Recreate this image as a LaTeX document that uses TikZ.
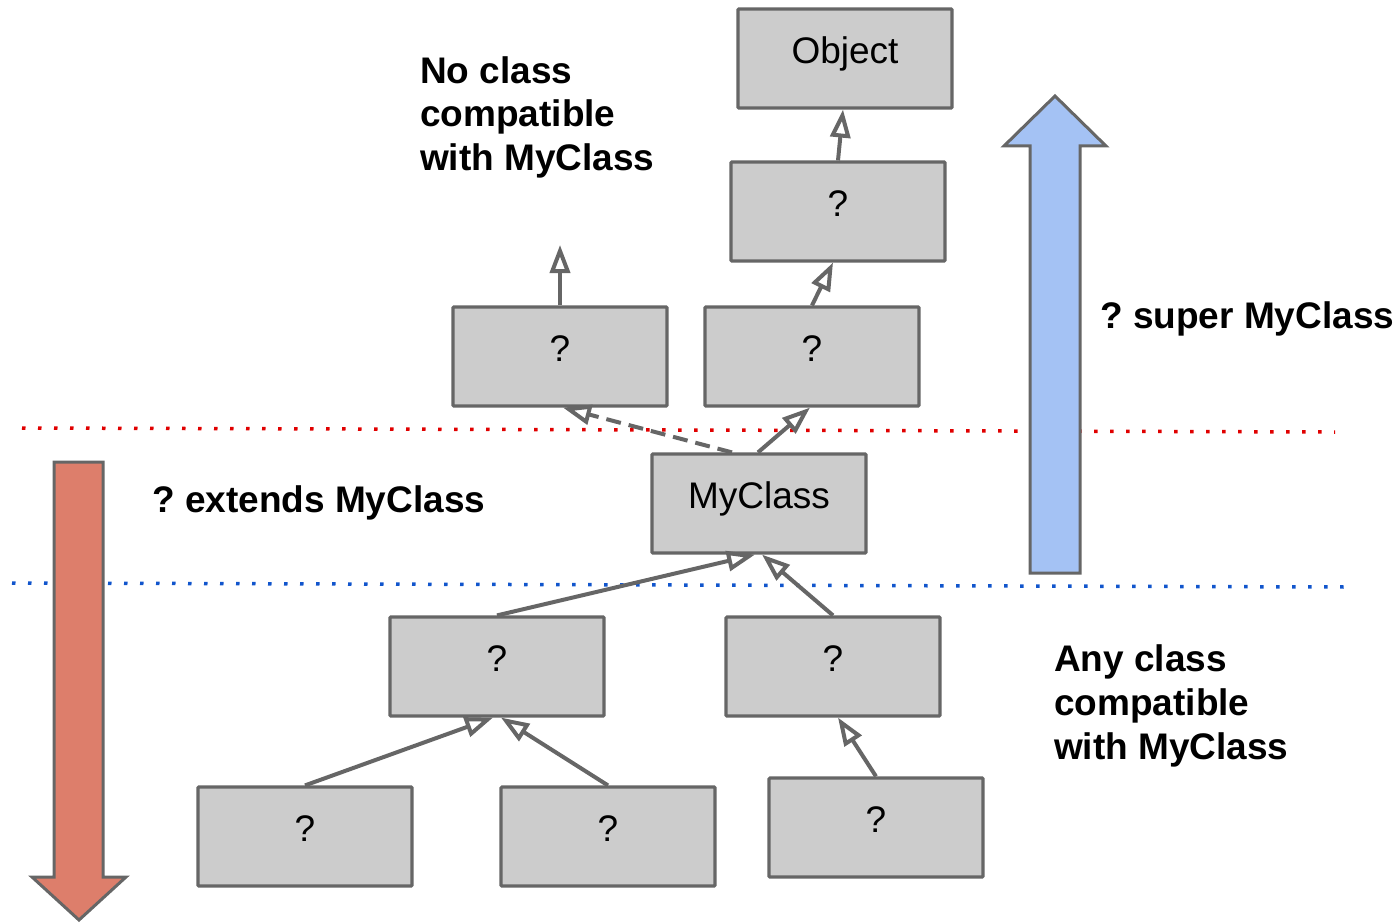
\documentclass[tikz,border=0pt]{standalone}
\usepackage{fontspec}
\setmainfont{Liberation Sans}
\usetikzlibrary{arrows.meta}
\frenchspacing
\definecolor{boxfill}{HTML}{CCCCCC}
\definecolor{edgegray}{HTML}{666666}
\definecolor{upblue}{HTML}{A4C2F4}
\definecolor{downred}{HTML}{DD7E6B}
\definecolor{dotred}{HTML}{E00000}
\definecolor{dotblue}{HTML}{1155CC}
\tikzset{
  classbox/.style={draw=edgegray, fill=boxfill, line width=3.2pt, rounded corners=1pt,
    minimum width=214pt, minimum height=99pt, inner sep=0pt,
    text height=26pt, text depth=16pt,
    font=\fontsize{37}{44}\selectfont},
  subedge/.style={draw=edgegray, line width=4pt,
    arrows={-Triangle[open, fill=white, length=28pt, width=20pt]}},
  note/.style={anchor=base west, inner sep=0pt, align=left,
    font=\fontsize{37}{44}\selectfont\bfseries},
  bigarrow/.style={draw=edgegray, line width=3pt, line join=miter},
  boundary/.style={line width=3.5pt, dash pattern=on 3.5pt off 12.5pt}
}
\begin{document}
\begin{tikzpicture}[x=1pt, y=-1pt]
\useasboundingbox (0,0) rectangle (1400,923);

% boundaries between the two wildcard regions
\draw[boundary, dotred] (22,428) -- (1335,432);
\draw[boundary, dotblue] (12,583) -- (1345,587);

% direction arrows
\draw[bigarrow, fill=upblue] (1030,573) -- (1030,146) -- (1004,146) -- (1055,96)
  -- (1106,146) -- (1080,146) -- (1080,573) -- cycle;
\draw[bigarrow, fill=downred] (54,462) -- (103,462) -- (103,877) -- (126,877)
  -- (79,920) -- (32,877) -- (54,877) -- cycle;

% class hierarchy
\node[classbox] (obj) at (845,58.5) {Object};
\node[classbox] (q1)  at (838,211.5) {?};
\node[classbox] (qL)  at (560,356.5) {?};
\node[classbox] (qR)  at (812,356.5) {?};
\node[classbox] (my)  at (759,503.5) {MyClass};
\node[classbox] (qA)  at (497,666.5) {?};
\node[classbox] (qB)  at (833,666.5) {?};
\node[classbox] (qC)  at (305,836.5) {?};
\node[classbox] (qD)  at (608,836.5) {?};
\node[classbox] (qE)  at (876,827.5) {?};
\coordinate (lfree) at (560,245);

\draw[subedge] (q1.north) -- ([xshift=-2pt]obj.south);
\draw[subedge] (qR.north) -- ([xshift=-5pt]q1.south);
\draw[subedge] ([xshift=-1pt]my.north) -- ([xshift=-2pt]qR.south);
\draw[subedge, dash pattern=on 15pt off 8pt] ([xshift=-27pt]my.north) -- ([xshift=3pt]qL.south);
\draw[subedge] (qL.north) -- (lfree);
\draw[subedge] (qA.north) -- ([xshift=-4pt]my.south);
\draw[subedge] (qB.north) -- ([xshift=3pt]my.south);
\draw[subedge] (qC.north) -- ([xshift=-4pt]qA.south);
\draw[subedge] (qD.north) -- ([xshift=4pt]qA.south);
\draw[subedge] (qE.north) -- ([xshift=5pt]qB.south);

% captions (a multi-line caption is placed by the baseline of its last line)
\node[note] (nocompat) at (420,171) {No class\\compatible\\with MyClass};
\node[note] (superlbl) at (1100,328) {? super MyClass};
\node[note] (extlbl) at (152,512) {? extends MyClass};
\node[note] (anycompat) at (1054,759) {Any class\\compatible\\with MyClass};
\end{tikzpicture}
\end{document}
